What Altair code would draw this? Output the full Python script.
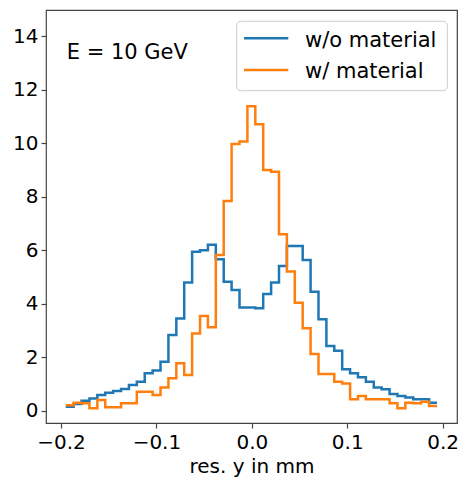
import altair as alt
import numpy as np
import pandas as pd

# ---- data ----
series_names = ["w/o material", "w/ material"]
series_colors = ["#1f77b4", "#ff7f0e"]

# step positions (bin boundaries) in mm
res_y = np.linspace(-0.195, 0.194, 48)

counts_without = [0.15, 0.25, 0.37, 0.46, 0.59, 0.67, 0.74, 0.81, 0.96, 1.08,
                  1.40, 1.50, 1.83, 2.83, 3.45, 4.79, 5.94, 6.00, 6.20, 5.66,
                  4.82, 4.51, 3.86, 3.86, 3.83, 4.36, 4.79, 5.41, 6.16, 6.16,
                  5.63, 4.45, 3.42, 2.42, 2.24, 1.55, 1.40, 1.25, 1.08, 0.87,
                  0.80, 0.62, 0.55, 0.49, 0.43, 0.43, 0.30, 0.30]
counts_with = [0.20, 0.30, 0.28, 0.09, 0.40, 0.13, 0.13, 0.28, 0.28, 0.71,
               0.71, 0.59, 0.87, 1.21, 1.77, 1.33, 2.89, 3.54, 3.12, 5.82,
               7.84, 9.97, 10.06, 11.38, 10.71, 9.00, 8.93, 6.60, 5.20, 4.04,
               3.08, 2.12, 1.37, 1.37, 1.08, 1.02, 0.43, 0.55, 0.43, 0.43,
               0.43, 0.28, 0.09, 0.30, 0.28, 0.33, 0.18, 0.18]

x_ticks = [-0.2, -0.1, 0.0, 0.1, 0.2]
y_ticks = [0, 2, 4, 6, 8, 10, 12, 14]
annotation = "E = 10 GeV"
x_title = "res. y in mm"

df = pd.concat([
    pd.DataFrame({"res_y": res_y, "count": counts_without, "series": series_names[0]}),
    pd.DataFrame({"res_y": res_y, "count": counts_with, "series": series_names[1]}),
], ignore_index=True)

FONT = "DejaVu Sans"
LW = 2.5
color_scale = alt.Scale(domain=series_names, range=series_colors)

x_enc = alt.X("res_y:Q",
              scale=alt.Scale(domain=[-0.2157, 0.2150], nice=False, zero=False),
              axis=alt.Axis(values=x_ticks, title=x_title,
                            labelExpr="replace(format(datum.value, '.1f'), '-', '\u2212')",
                            titleBaseline="alphabetic", titleY=49))
y_enc = alt.Y("count:Q",
              scale=alt.Scale(domain=[-0.46, 14.98], nice=False, zero=False),
              axis=alt.Axis(values=y_ticks, title=None, format="d"))

def series_layer(name):
    return alt.Chart(df).transform_filter(
        alt.datum.series == name
    ).mark_line(interpolate="step-after", strokeWidth=LW).encode(
        x=x_enc, y=y_enc,
        color=alt.Color("series:N", scale=color_scale, legend=None),
    )

one = pd.DataFrame({"a": [0]})

text_e = alt.Chart(one).mark_text(
    text=annotation, font=FONT, fontSize=21, align="left", baseline="alphabetic", color="black"
).encode(x=alt.value(20.7), y=alt.value(49.3))

legend_box = alt.Chart(one).mark_rect(
    fill="white", fillOpacity=0.8, stroke="#cccccc", strokeWidth=1, cornerRadius=4
).encode(x=alt.value(190.7), x2=alt.value(401.3), y=alt.value(11.3), y2=alt.value(80.7))

legend_layers = []
for i, (name, col) in enumerate(zip(series_names, series_colors)):
    ly = 28.3 + i * 31.7
    legend_layers.append(
        alt.Chart(one).mark_rule(color=col, strokeWidth=LW).encode(
            x=alt.value(198), x2=alt.value(242.3), y=alt.value(ly))
    )
    legend_layers.append(
        alt.Chart(one).mark_text(text=name, font=FONT, fontSize=21, align="left",
                                 baseline="alphabetic", color="black").encode(
            x=alt.value(259), y=alt.value(ly + 8.2))
    )

chart = alt.layer(
    series_layer(series_names[0]),
    series_layer(series_names[1]),
    text_e,
    legend_box,
    *legend_layers,
).properties(
    width=411, height=413,
    padding={"left": 46, "top": 10, "right": 2, "bottom": 54},
    autosize=alt.AutoSizeParams(type="none"),
).configure_view(
    stroke="#444444", strokeWidth=1.2
).configure_axis(
    grid=False, domain=False,
    labelFont=FONT, labelFontSize=20, labelColor="black",
    tickColor="#444444", tickSize=5, tickWidth=1.2,
    titleFont=FONT, titleFontSize=20, titleFontWeight="normal", titleColor="black",
).configure_axisX(labelPadding=4).configure_axisY(labelPadding=3)

chart.save("out.html", embed_options={"renderer": "svg", "actions": False})
